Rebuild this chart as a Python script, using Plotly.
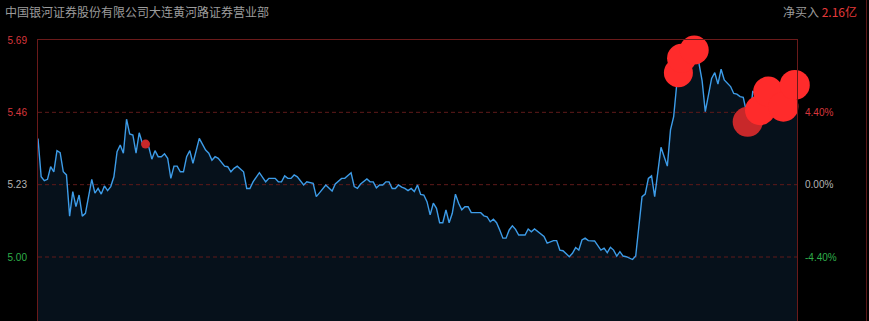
import plotly.graph_objects as go

# ---- data ----
title_text = "中国银河证券股份有限公司大连黄河路证券营业部"
net_label = "净买入"
net_value = "2.16亿"
prev_close = 5.23

minutes = [0, 1, 2, 3, 4, 5, 6, 7, 8, 9, 10, 11, 12, 13, 14, 15, 17, 18, 19, 20,
           21, 22, 23, 24, 25, 26, 27, 28, 29, 30, 31, 32, 33, 35, 36, 37, 38, 39, 40, 41,
           42, 43, 44, 45, 46, 47, 48, 49, 51, 53, 54, 55, 56, 57, 59, 60, 61, 62, 63, 65,
           66, 67, 68, 70, 72, 73, 75, 76, 77, 78, 79, 80, 81, 82, 84, 85, 87, 88, 89, 91,
           93, 94, 96, 97, 99, 100, 101, 102, 104, 105, 106, 107, 108, 109, 110, 111, 112, 113, 114, 115,
           116, 117, 118, 119, 120, 121, 122, 123, 124, 125, 126, 127, 128, 129, 130, 131, 132, 133, 134, 135,
           136, 137, 140, 141, 142, 143, 144, 145, 146, 147, 148, 149, 150, 151, 152, 154, 155, 156, 157, 158,
           160, 161, 163, 164, 165, 166, 168, 169, 170, 171, 172, 173, 174, 176, 177, 178, 179, 180, 181, 182,
           183, 184, 185, 186, 188, 189, 191, 192, 193, 194, 195, 196, 197, 198, 199, 200, 201, 202, 204, 206,
           208, 209, 210, 211, 213, 214, 215, 216, 217, 219, 220, 221, 222, 223, 224, 225, 226, 228, 231, 234,
           238, 240]
prices = [5.377, 5.255, 5.243, 5.247, 5.287, 5.271, 5.338, 5.332, 5.271, 5.261, 5.130, 5.208, 5.160, 5.197, 5.130, 5.139, 5.247, 5.203, 5.218, 5.200,
          5.226, 5.211, 5.224, 5.255, 5.335, 5.356, 5.330, 5.438, 5.391, 5.388, 5.330, 5.395, 5.362, 5.351, 5.311, 5.338, 5.319, 5.319, 5.328, 5.314,
          5.250, 5.289, 5.289, 5.271, 5.271, 5.319, 5.338, 5.298, 5.377, 5.340, 5.330, 5.308, 5.319, 5.314, 5.289, 5.287, 5.271, 5.282, 5.289, 5.271,
          5.218, 5.218, 5.239, 5.268, 5.239, 5.250, 5.250, 5.239, 5.239, 5.258, 5.250, 5.250, 5.261, 5.255, 5.229, 5.239, 5.234, 5.192, 5.204, 5.229,
          5.210, 5.232, 5.250, 5.250, 5.268, 5.224, 5.218, 5.232, 5.248, 5.239, 5.239, 5.220, 5.229, 5.229, 5.239, 5.239, 5.218, 5.218, 5.229, 5.222,
          5.218, 5.211, 5.218, 5.208, 5.229, 5.199, 5.197, 5.176, 5.134, 5.171, 5.155, 5.109, 5.109, 5.150, 5.109, 5.139, 5.200, 5.171, 5.150, 5.160,
          5.160, 5.141, 5.141, 5.131, 5.128, 5.112, 5.120, 5.109, 5.086, 5.060, 5.060, 5.086, 5.099, 5.088, 5.070, 5.070, 5.089, 5.080, 5.089, 5.080,
          5.065, 5.044, 5.052, 5.052, 5.022, 5.020, 5.001, 5.012, 5.030, 5.022, 5.054, 5.060, 5.052, 5.051, 5.035, 5.022, 5.028, 5.014, 5.031, 5.022,
          5.003, 5.017, 5.003, 5.001, 4.992, 5.003, 5.192, 5.200, 5.250, 5.258, 5.192, 5.277, 5.349, 5.319, 5.289, 5.404, 5.446, 5.552, 5.601, 5.633,
          5.633, 5.616, 5.560, 5.462, 5.568, 5.586, 5.550, 5.597, 5.563, 5.542, 5.520, 5.518, 5.510, 5.508, 5.462, 5.430, 5.526, 5.515, 5.531, 5.525,
          5.537, 5.537]

dark_bub_min = [34, 224.4]
dark_bub_price = [5.359, 5.430]
dark_bub_size = [9, 30]

bub_min = [202.5, 203.5, 207.5, 228.3, 230.9, 235.7, 239.3]
bub_price = [5.586, 5.632, 5.658, 5.467, 5.526, 5.478, 5.547]
bub_size = [29, 29, 29, 30, 30, 30, 30]

price_ticks = [5.00, 5.23, 5.46, 5.69]
price_tick_colors = ["#2fae4a", "#b4b4b4", "#d8363c", "#d8363c"]
pct_ticks = [-4.40, 0.00, 4.40, 8.80]
pct_tick_colors = ["#2fae4a", "#b4b4b4", "#d8363c", "#d8363c"]
dashed_levels = [5.00, 5.23, 5.46]

# ---- figure ----
W, H = 869, 321
ml, mr, mt, mb = 38, 72, 40, 0
y_top = 5.69
px_per_unit = 314.5
y_bot = y_top - (H - mt - mb) / px_per_unit
x_lo, x_hi = 0, 240

fig = go.Figure()
# area fill
fig.add_trace(go.Scatter(
    x=minutes, y=prices, mode="lines",
    line=dict(color="rgba(0,0,0,0)", width=0),
    fill="tozeroy", fillcolor="#06111b",
    hoverinfo="skip", showlegend=False,
))
# dashed reference lines (above the fill, below the price line)
for lvl in dashed_levels:
    fig.add_trace(go.Scatter(
        x=[x_lo, x_hi], y=[lvl, lvl], mode="lines",
        line=dict(color="#5e1a1a", width=1, dash="4px,3px"),
        hoverinfo="skip", showlegend=False,
    ))
# price line
fig.add_trace(go.Scatter(
    x=minutes, y=prices, mode="lines",
    line=dict(color="#3d9ce8", width=1.4),
    hoverinfo="skip", showlegend=False,
))
fig.add_trace(go.Scatter(
    x=dark_bub_min, y=dark_bub_price, mode="markers",
    marker=dict(size=dark_bub_size, color="#c8282a", opacity=1, line=dict(width=0)),
    cliponaxis=False, showlegend=False, hoverinfo="skip",
))
fig.add_trace(go.Scatter(
    x=bub_min, y=bub_price, mode="markers",
    marker=dict(size=bub_size, color="#ff2b2b", opacity=1, line=dict(width=0)),
    cliponaxis=False, showlegend=False, hoverinfo="skip",
))
# invisible trace to activate right axis
fig.add_trace(go.Scatter(x=[0], y=[0], yaxis="y2", mode="markers",
                         marker=dict(opacity=0), showlegend=False, hoverinfo="skip"))

def fmt_price(v):
    return f"{v:.2f}"

def fmt_pct(v):
    return f"{v:.2f}%"

fig.update_layout(
    width=W, height=H,
    margin=dict(l=ml, r=mr, t=mt, b=mb, pad=0),
    paper_bgcolor="#000000", plot_bgcolor="#000000",
    font=dict(family="Liberation Sans, Arial, sans-serif", size=10, color="#b4b4b4"),
    xaxis=dict(range=[x_lo, x_hi], showgrid=False, zeroline=False, showticklabels=False,
               showline=True, mirror=True, linecolor="#6a1a1a", linewidth=1, fixedrange=True),
    yaxis=dict(range=[y_bot, y_top], tickvals=price_ticks,
               ticktext=[f'<span style="color:{c}">{fmt_price(v)}</span>'
                         for v, c in zip(price_ticks, price_tick_colors)],
               showgrid=False,
               zeroline=False, showline=True, mirror=True, linecolor="#6a1a1a", linewidth=1,
               ticks="", ticklabelstandoff=8, tickfont=dict(size=10)),
    yaxis2=dict(overlaying="y", side="right",
                range=[(y_bot / prev_close - 1) * 100, (y_top / prev_close - 1) * 100],
                tickvals=pct_ticks,
                ticktext=[f'<span style="color:{c}">{fmt_pct(v)}</span>'
                          for v, c in zip(pct_ticks, pct_tick_colors)],
                showgrid=False, zeroline=False, showline=False, ticks="",
                ticklabelstandoff=7, tickfont=dict(size=10)),
)

plot_w = W - ml - mr
plot_h = H - mt - mb
def px_to_paper_x(px):
    return (px - ml) / plot_w
def px_to_paper_y(py):
    return (H - mb - py) / plot_h

fig.add_shape(type="line", xref="paper", yref="paper",
              x0=px_to_paper_x(866.5), x1=px_to_paper_x(866.5), y0=0, y1=px_to_paper_y(0),
              line=dict(color="#5e1818", width=1))

fig.add_annotation(text=title_text, xref="paper", yref="paper",
                   x=px_to_paper_x(3), y=px_to_paper_y(11), xanchor="left", yanchor="middle",
                   showarrow=False,
                   font=dict(family="Noto Sans CJK SC", size=12, color="#9c9c9c"))
fig.add_annotation(text=f'{net_label} <span style="color:#e53a3a">{net_value}</span>',
                   xref="paper", yref="paper",
                   x=px_to_paper_x(859), y=px_to_paper_y(11), xanchor="right", yanchor="middle",
                   showarrow=False,
                   font=dict(family="Noto Sans CJK SC", size=12, color="#9c9c9c"))

fig.write_html("out.html")
